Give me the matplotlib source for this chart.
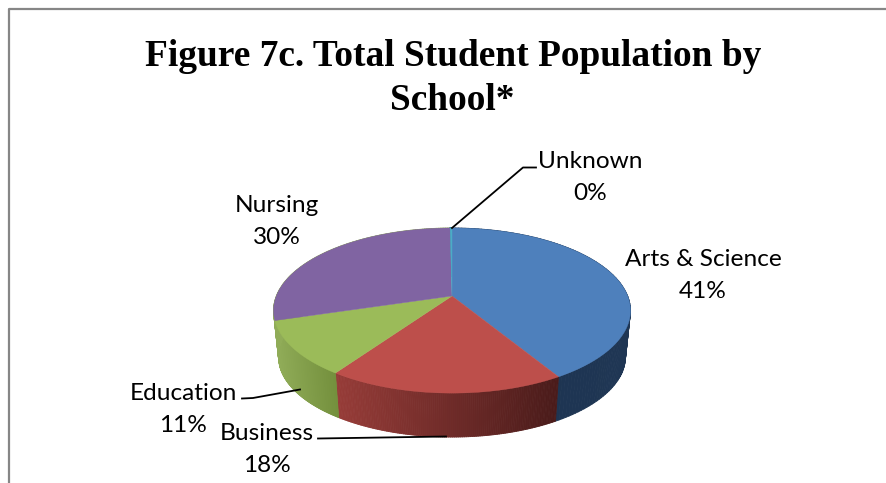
import numpy as np
import matplotlib
matplotlib.use("Agg")
import matplotlib.pyplot as plt
from matplotlib.collections import PolyCollection
from matplotlib.colors import to_rgb

# ----------------------- DATA ----------------------- #
schools = ["Arts & Science", "Business", "Education", "Nursing", "Unknown"]
shares = [41.4, 18.2, 10.7, 29.5, 0.2]
labels = ["41%", "18%", "11%", "30%", "0%"]

top_colors = ["#4e80bc", "#bd4f4b", "#9bbb59", "#8064a2", "#4bacc6"]
# wall colours at the left and right end of each slice
wall_colors = [
    ("#1c3350", "#1f3654"),
    ("#973c38", "#4a1b1a"),
    ("#90ac58", "#74903d"),
    ("#90ac58", "#90ac58"),
    ("#2f7f94", "#2f7f94"),
]
label_pos = [(703, 260), (267, 434), (183, 394), (277, 206), (590, 162)]

# pie geometry in pixels: tilted disc with some perspective
cx, cy = 452, 296
a_scale, b_scale, persp = 175.7, 80.0, 0.176
wall_shrink, wall_drop = 0.972, 46.7


def rim(theta):
    """Angle clockwise from the top of the disc to x, y offsets from the apex."""
    u, v = np.sin(theta), np.cos(theta)
    d = 1 + persp * v
    return a_scale * u / d, -b_scale * v / d


fig = plt.figure(figsize=(8.86, 4.83), dpi=100)
ax = fig.add_axes([0, 0, 1, 1])
ax.set_xlim(0, 886)
ax.set_ylim(483, 0)
ax.axis("off")

# chart frame, only the left and top edges are in the crop
ax.plot([9, 9, 886], [483, 8.5, 8.5], color="#868686", lw=1.6, solid_capstyle="butt")

edges = np.concatenate([[0], np.cumsum(shares)]) / np.sum(shares) * 2 * np.pi

# side walls first, the top faces cover whatever is behind them
for i in range(len(shares)):
    t = np.linspace(edges[i], edges[i + 1], 120)
    x, y = rim(t)
    xb, yb = x * wall_shrink, y * wall_shrink + wall_drop
    left, right = (to_rgb(c) for c in wall_colors[i])
    span = max(x.max() - x.min(), 1e-6)
    polys, cols = [], []
    for k in range(len(t) - 1):
        polys.append(
            [
                (cx + x[k], cy + y[k]),
                (cx + x[k + 1], cy + y[k + 1]),
                (cx + xb[k + 1], cy + yb[k + 1]),
                (cx + xb[k], cy + yb[k]),
            ]
        )
        w = (x[k] - x.min()) / span
        cols.append(tuple(l + (r - l) * w for l, r in zip(left, right)))
    ax.add_collection(PolyCollection(polys, facecolors=cols, edgecolors=cols, lw=0.6))

for i in range(len(shares)):
    t = np.linspace(edges[i], edges[i + 1], 120)
    x, y = rim(t)
    ax.fill(
        np.concatenate([[cx], cx + x]),
        np.concatenate([[cy], cy + y]),
        color=top_colors[i],
        lw=0.3,
    )

# leader lines
ax.plot([536, 523, 452], [167.5, 167.5, 228], color="black", lw=1.3)
ax.plot([242, 253, 300], [398.5, 398, 389.5], color="black", lw=1.3)
ax.plot([318, 446], [438.5, 436.5], color="black", lw=1.3)

# category and percentage labels
for name, pct, (lx, ly) in zip(schools, labels, label_pos):
    ax.text(lx, ly, name, ha="center", va="center", fontsize=17.6, family="Lato", color="black")
    ax.text(lx, ly + 32, pct, ha="center", va="center", fontsize=17.6, family="Lato", color="black")

ax.text(
    453.5,
    66,
    "Figure 7c. Total Student Population by",
    ha="center",
    va="baseline",
    fontsize=26.9,
    family="Liberation Serif",
    weight="bold",
)
ax.text(452, 110, "School*", ha="center", va="baseline", fontsize=26.9, family="Liberation Serif", weight="bold")

fig.savefig("out.png", dpi=100)
